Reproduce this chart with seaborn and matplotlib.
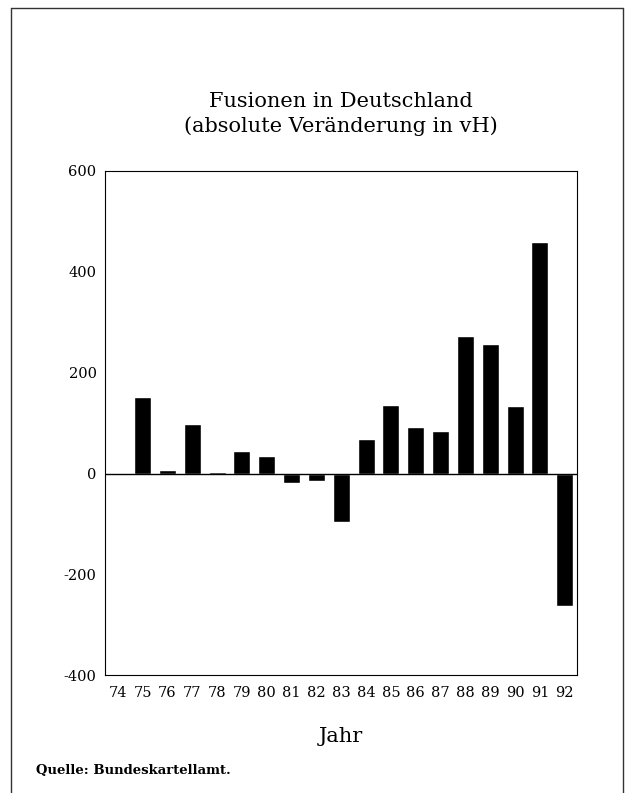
import matplotlib
matplotlib.use('Agg')
import matplotlib.pyplot as plt
import seaborn as sns
import pandas as pd
from matplotlib.lines import Line2D

# Daten: Jahr und Veränderung in vH
jahre = ['74', '75', '76', '77', '78', '79', '80', '81', '82', '83',
         '84', '85', '86', '87', '88', '89', '90', '91', '92']
werte = [0, 151, 8, 99, 3, 44, 34, -18, -15, -96,
         69, 135, 93, 85, 273, 256, 134, 459, -263]
y_ticks = [-400, -200, 0, 200, 400, 600]

titel = 'Fusionen in Deutschland\n(absolute Veränderung in vH)'
x_titel = 'Jahr'
quelle = 'Quelle: Bundeskartellamt.'

# Stil
sns.set_style("white")
plt.rcParams['font.family'] = ['DejaVu Serif']
plt.rcParams['axes.unicode_minus'] = False
plt.rcParams['text.color'] = 'black'

df = pd.DataFrame({'Jahr': jahre, 'Wert': werte})

fig = plt.figure(figsize=(6.28, 7.93), dpi=100)
ax = fig.add_axes([0.167, 0.1484, 0.752, 0.636])

sns.barplot(data=df, x='Jahr', y='Wert', order=jahre, color='black',
            saturation=1, width=0.68, errorbar=None, ax=ax)

# Nulllinie
ax.axhline(0, color='black', lw=1)

ax.set_ylim(-400, 600)
ax.set_xlim(-0.52, 18.5)
ax.set_yticks(y_ticks)
ax.set_xlabel('')
ax.set_ylabel('')
ax.tick_params(direction='in', length=5, width=0.8, colors='black', labelsize=10.5)
ax.tick_params(axis='y', pad=6)
ax.tick_params(axis='x', pad=8)
for s in ax.spines.values():
    s.set_visible(True)
    s.set_color('black')
    s.set_linewidth(0.8)

# Texte
x_mitte = (0.167 + 0.919) / 2
fig.text(x_mitte, 1 - 114 / 793, titel, ha='center', va='center',
         fontsize=15, linespacing=1.35)
fig.text(x_mitte, 1 - 736 / 793, x_titel, ha='center', va='center', fontsize=15)
fig.text(36 / 628, 1 - 770 / 793, quelle, ha='left', va='center',
         fontsize=9.5, fontweight='bold')

# Rahmen vom Scan
rahmen = dict(color='#333333', lw=1, transform=fig.transFigure)
fig.add_artist(Line2D([11 / 628, 623 / 628], [1 - 8 / 793, 1 - 8 / 793], **rahmen))
fig.add_artist(Line2D([11 / 628, 11 / 628], [0, 1 - 8 / 793], **rahmen))
fig.add_artist(Line2D([623 / 628, 623 / 628], [0, 1 - 8 / 793], **rahmen))

fig.savefig('out.png', dpi=100)
